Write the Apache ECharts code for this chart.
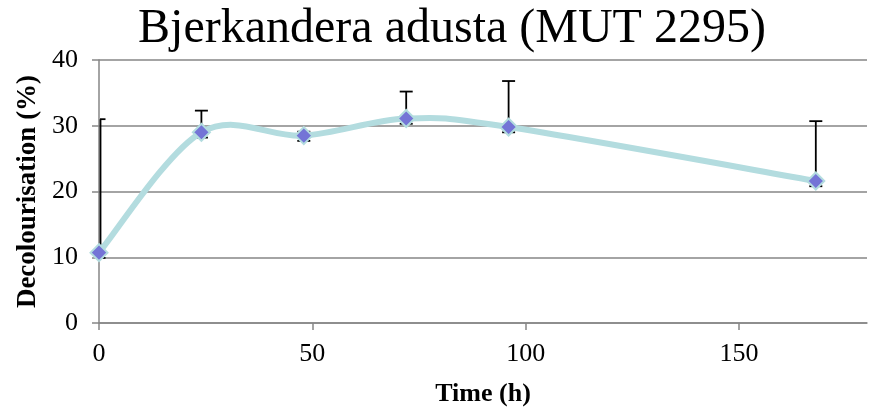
<!DOCTYPE html>
<html>
<head>
<meta charset="utf-8">
<script src="https://cdn.jsdelivr.net/npm/echarts@6/dist/echarts.min.js"></script>
<style>html,body{margin:0;padding:0;background:#fff}#c{width:872px;height:407px}</style>
</head>
<body>
<div id="c"></div>
<script>
const chartTitle = 'Bjerkandera adusta (MUT 2295)';
const xName = 'Time (h)';
const yName = 'Decolourisation (%)';
const times = [0, 24, 48, 72, 96, 168];
const means = [10.7, 29.0, 28.5, 31.1, 29.8, 21.6];
const errUp = [20.3, 3.3, 0.6, 4.1, 7.0, 9.1];
const errDown = [0.8, 0.8, 0.8, 0.8, 0.8, 0.8];
const xTicks = [0, 50, 100, 150];
const yTicks = [0, 10, 20, 30, 40];

const font = '"Liberation Serif", "Times New Roman", serif';
const chart = echarts.init(document.getElementById('c'), null, {renderer: 'canvas'});

const pointData = times.map((t, i) => [t, means[i]]);
const errData = times.map((t, i) => [t, means[i] - errDown[i], means[i] + errUp[i]]);

// Smooth curve (Excel-like Catmull-Rom in pixel space), drawn once through api.coord
function curveRender(params, api) {
  if (params.dataIndex !== 0) return null;
  const pts = pointData.map(p => api.coord(p));
  const n = pts.length;
  const k = 1 / 6;
  let d = 'M' + pts[0][0] + ',' + pts[0][1];
  for (let i = 0; i < n - 1; i++) {
    const p0 = pts[Math.max(i - 1, 0)], p1 = pts[i], p2 = pts[i + 1], p3 = pts[Math.min(i + 2, n - 1)];
    const c1x = p1[0] + (p2[0] - p0[0]) * k, c1y = p1[1] + (p2[1] - p0[1]) * k;
    const c2x = p2[0] - (p3[0] - p1[0]) * k, c2y = p2[1] - (p3[1] - p1[1]) * k;
    d += ' C' + c1x + ',' + c1y + ' ' + c2x + ',' + c2y + ' ' + p2[0] + ',' + p2[1];
  }
  return {
    type: 'path',
    shape: {pathData: d},
    style: {fill: null, stroke: '#B3DCDF', lineWidth: 6, lineCap: 'round', lineJoin: 'round'}
  };
}

chart.setOption({
  animation: false,
  backgroundColor: '#fff',
  title: {
    text: chartTitle, left: 447, textAlign: 'center', top: 0,
    textStyle: {fontFamily: font, fontSize: 48, fontWeight: 'normal', color: '#000'}
  },
  grid: {left: 99, right: 5, top: 60, bottom: 84, containLabel: false, outerBoundsMode: 'none'},
  xAxis: {
    type: 'value', min: 0, max: 180, interval: 50,
    name: xName, nameLocation: 'middle', nameGap: 58,
    nameTextStyle: {fontFamily: font, fontSize: 26, fontWeight: 'bold', color: '#000'},
    axisLine: {show: true, onZero: false, lineStyle: {color: '#868686', width: 1.5}},
    axisTick: {show: true, length: 7, customValues: xTicks, lineStyle: {color: '#868686', width: 1.5}},
    axisLabel: {customValues: xTicks, margin: 18, fontFamily: font, fontSize: 26, color: '#000'},
    splitLine: {show: false}
  },
  yAxis: {
    type: 'value', min: 0, max: 40, interval: 10,
    name: yName, nameLocation: 'middle', nameGap: 55, nameRotate: 90,
    nameTextStyle: {fontFamily: font, fontSize: 27, fontWeight: 'bold', color: '#000'},
    axisLine: {show: true, lineStyle: {color: '#868686', width: 1.5}},
    axisTick: {show: true, length: 7, lineStyle: {color: '#868686', width: 1.5}},
    axisLabel: {margin: 21, fontFamily: font, fontSize: 26, color: '#000'},
    splitLine: {show: true, lineStyle: {color: '#868686', width: 1.5}}
  },
  series: [
    {
      type: 'custom',
      clip: false,
      z: 1,
      data: errData,
      renderItem: function (params, api) {
        const x = api.value(0);
        const lo = api.coord([x, api.value(1)]);
        const hi = api.coord([x, api.value(2)]);
        const hw = 6.5;
        const left = params.coordSys.x;
        const cx = Math.max(hi[0], left + 1.5);
        const st = {stroke: '#000', lineWidth: 1.8};
        return {
          type: 'group',
          children: [
            {type: 'line', shape: {x1: cx, y1: lo[1], x2: cx, y2: hi[1]}, style: st},
            {type: 'line', shape: {x1: Math.max(hi[0] - hw, left + 1), y1: hi[1], x2: hi[0] + hw, y2: hi[1]}, style: st},
            {type: 'line', shape: {x1: Math.max(lo[0] - hw, left + 1), y1: lo[1], x2: lo[0] + hw, y2: lo[1]}, style: st}
          ]
        };
      }
    },
    {
      type: 'custom',
      clip: false,
      z: 2,
      data: pointData,
      renderItem: curveRender
    },
    {
      type: 'scatter',
      z: 3,
      data: pointData,
      symbol: 'diamond',
      symbolSize: 17,
      itemStyle: {color: '#7474D6', borderColor: '#B3DCDF', borderWidth: 2, opacity: 1},
      clip: false
    }
  ]
});
</script>
</body>
</html>
